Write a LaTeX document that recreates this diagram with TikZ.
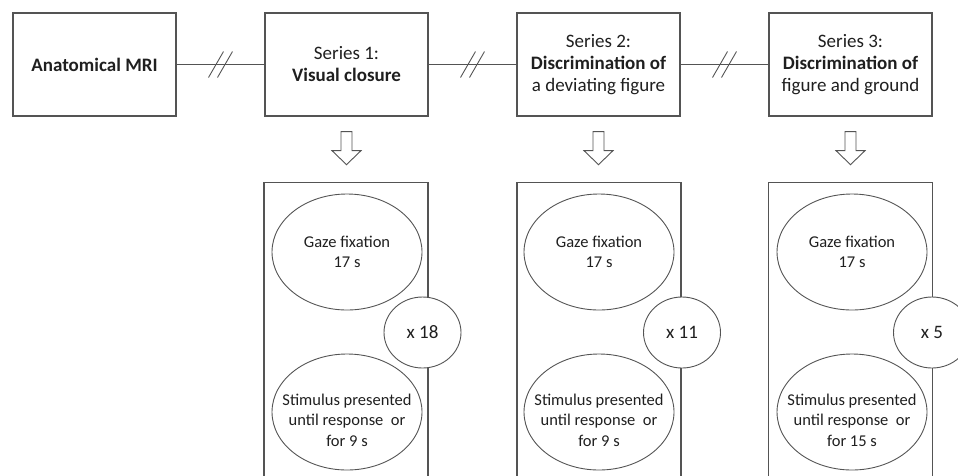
\documentclass[tikz,border=0pt]{standalone}
\usepackage{fontspec}
\setmainfont{Carlito}
\usetikzlibrary{shapes.geometric,calc}
\definecolor{linegray}{gray}{0.33}
\definecolor{txt}{gray}{0.12}
\begin{document}
\begin{tikzpicture}[x=1pt,y=-1pt,
  topbox/.style={draw=linegray, line width=1.3pt, minimum width=163pt, minimum height=103pt, align=center, text=txt, font=\fontsize{19}{22}\selectfont, inner sep=0pt},
  panel/.style={draw=linegray, line width=1.1pt, minimum width=164pt, minimum height=340pt, anchor=north, inner sep=0pt},
  oval/.style={ellipse, draw=linegray, line width=0.9pt, minimum width=150pt, minimum height=116pt, inner sep=0pt, align=center, text=txt, font=\fontsize{16.5}{20.5}\selectfont},
  ovaltext/.style={align=center, text=txt, font=\fontsize{16.5}{20.5}\selectfont, inner sep=0pt},
  rep/.style={ellipse, draw=linegray, line width=0.9pt, fill=white, minimum width=77pt, minimum height=71pt, inner sep=0pt, text=txt, font=\fontsize{19}{22}\selectfont},
  link/.style={draw=linegray, line width=1.1pt},
  slash/.style={draw=linegray, line width=0.9pt},
  hollow/.style={draw=linegray, line width=0.9pt, fill=white},
  downarrow/.pic={\draw[hollow] (-5.5,0) -- (5.5,0) -- (5.5,19) -- (14.5,19) -- (0,33) -- (-14.5,19) -- (-5.5,19) -- cycle;}
]
\useasboundingbox (0,0) rectangle (958,475);
\clip (0,0) rectangle (958,475);

% top row
\node[topbox] (mri) at (94.5,64.5) {\bfseries Anatomical MRI};
\node[topbox] (s1) at (346.5,64.5) {Series 1:\\\bfseries Visual closure};
\node[topbox] (s2) at (598.5,64.5) {Series 2:\\\bfseries Discrimination of\\a deviating figure};
\node[topbox] (s3) at (850.5,64.5) {Series 3:\\\bfseries Discrimination of\\figure and ground};

\draw[link] (mri) -- (s1) coordinate[midway] (b1);
\draw[link] (s1) -- (s2) coordinate[midway] (b2);
\draw[link] (s2) -- (s3) coordinate[midway] (b3);
\foreach \b in {b1,b2,b3}
  \draw[slash, shift={(\b)}] (-12,13) -- (3,-13) (-3,13) -- (12,-13);

% hollow down arrows
\pic at ($(s1.south)+(0,15)$) {downarrow};
\pic at ($(s2.south)+(0,15)$) {downarrow};
\pic at ($(s3.south)+(0,15)$) {downarrow};

% panels
\node[panel] (p1) at (346,182) {};
\node[panel] (p2) at (599,182) {};
\node[panel] (p3) at (850.5,182) {};

% gaze fixation ovals
\node[oval] (g1) at (347,252) {Gaze fixation\\17 s};
\node[oval] (g2) at (599,252) {Gaze fixation\\17 s};
\node[oval] (g3) at (852,252) {Gaze fixation\\17 s};

% stimulus ovals
\node[oval] (r1) at (347,412) {};
\node[oval] (r2) at (599,412) {};
\node[oval] (r3) at (852,412) {};
\node[ovaltext] (rt1) at ($(r1)+(0,8)$) {Stimulus presented\\until response~ or\\for 9 s};
\node[ovaltext] (rt2) at ($(r2)+(0,8)$) {Stimulus presented\\until response~ or\\for 9 s};
\node[ovaltext] (rt3) at ($(r3)+(0,8)$) {Stimulus presented\\until response~ or\\for 15 s};

% repetition circles
\node[rep] (c1) at (422.5,332.5) {x 18};
\node[rep] (c2) at (682,332.5) {x 11};
\node[rep] (c3) at (932,332.5) {x 5};
\end{tikzpicture}
\end{document}
